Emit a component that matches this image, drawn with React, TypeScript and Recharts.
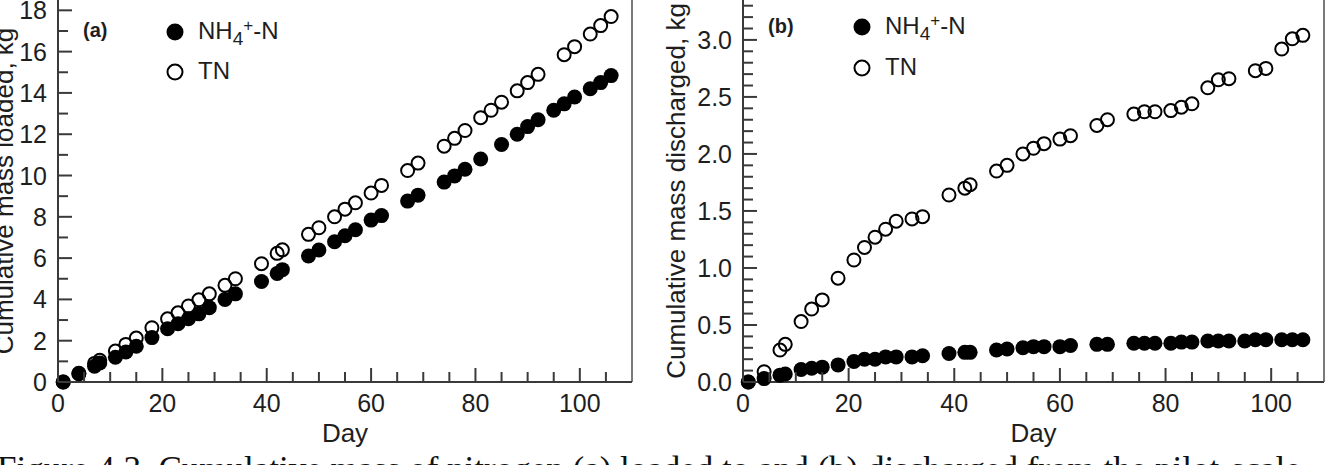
import React from 'react';
import { ScatterChart, Scatter, XAxis, YAxis, ReferenceLine, Legend } from 'recharts';

// sampling days (shared by both panels)
const days = [1, 4, 7, 8, 11, 13, 15, 18, 21, 23, 25, 27, 29, 32, 34, 39, 42, 43, 48, 50, 53, 55, 57, 60, 62, 67, 69, 74, 76, 78, 81, 83, 85, 88, 90, 92, 95, 97, 99, 102, 104, 106];

// (a) cumulative mass loaded, kg
const nh4Loaded = [0.0, 0.4, 0.76, 0.92, 1.2, 1.45, 1.73, 2.15, 2.58, 2.82, 3.06, 3.3, 3.6, 4.0, 4.27, 4.87, 5.26, 5.44, 6.1, 6.39, 6.79, 7.08, 7.37, 7.84, 8.06, 8.76, 9.05, 9.68, 9.98, 10.3, 10.8, null, 11.5, 12.0, 12.37, 12.7, 13.16, 13.47, 13.8, 14.2, 14.5, 14.84];
const tnLoaded = [0.0, 0.42, 0.9, 1.05, 1.5, 1.82, 2.13, 2.63, 3.06, 3.35, 3.68, 3.98, 4.27, 4.68, 5.0, 5.73, 6.23, 6.4, 7.15, 7.47, 8.0, 8.37, 8.68, 9.15, 9.52, 10.24, 10.6, 11.42, 11.8, 12.18, 12.8, 13.16, 13.55, 14.1, 14.5, 14.9, null, 15.85, 16.24, 16.85, 17.26, 17.7];

// (b) cumulative mass discharged, kg
const nh4Discharged = [0.0, 0.03, 0.06, 0.07, 0.11, 0.12, 0.13, 0.15, 0.18, 0.2, 0.2, 0.22, 0.22, 0.22, 0.23, 0.25, 0.26, 0.26, 0.28, 0.29, 0.3, 0.31, 0.31, 0.31, 0.32, 0.33, 0.33, 0.34, 0.34, 0.34, 0.34, 0.35, 0.35, 0.36, 0.36, 0.36, 0.36, 0.37, 0.37, 0.37, 0.37, 0.37];
const tnDischarged = [0.0, 0.09, 0.28, 0.33, 0.53, 0.64, 0.72, 0.91, 1.07, 1.18, 1.27, 1.34, 1.41, 1.43, 1.45, 1.64, 1.7, 1.73, 1.85, 1.9, 2.0, 2.05, 2.09, 2.13, 2.16, 2.25, 2.3, 2.35, 2.37, 2.37, 2.38, 2.41, 2.44, 2.58, 2.65, 2.66, null, 2.73, 2.75, 2.92, 3.01, 3.04];

// ticks
const xMajor = [0, 20, 40, 60, 80, 100];
const xMinor = [5, 10, 15, 25, 30, 35, 45, 50, 55, 65, 70, 75, 85, 90, 95, 105];
const yMajorA = [0, 2, 4, 6, 8, 10, 12, 14, 16, 18];
const yMinorA = [1, 3, 5, 7, 9, 11, 13, 15, 17];
const yMajorB = [0, 0.5, 1, 1.5, 2, 2.5, 3];
const yMinorB = [0.1, 0.2, 0.3, 0.4, 0.6, 0.7, 0.8, 0.9, 1.1, 1.2, 1.3, 1.4, 1.6, 1.7, 1.8, 1.9, 2.1, 2.2, 2.3, 2.4, 2.6, 2.7, 2.8, 2.9, 3.1, 3.2, 3.3];

const FONT = '"Liberation Sans", Arial, Helvetica, sans-serif';
const AXIS = '#3a3a3a';
const INK = '#1e1e1e';

const toPoints = (vals: (number | null)[]) =>
  days.map((d, i) => ({ day: d, v: vals[i] })).filter(p => p.v != null);

const Filled = (p: any) => <circle cx={p.cx} cy={p.cy} r={7.5} fill="#000" />;
const Open = (p: any) => <circle cx={p.cx} cy={p.cy} r={6.5} fill="none" stroke="#000" strokeWidth={2} />;

function makeYTick(majors: number[], fmt: (v: number) => string) {
  return (props: any) => {
    const { x, y, payload } = props;
    const major = majors.includes(payload.value);
    return (
      <g>
        <line x1={x} x2={x + (major ? 14 : 10)} y1={y} y2={y} stroke={AXIS} strokeWidth={2} />
        {major && (
          <text x={x - 11} y={y} dy="0.36em" textAnchor="end" fontSize={25} fontFamily={FONT} fill={INK}>
            {fmt(payload.value)}
          </text>
        )}
      </g>
    );
  };
}

const XTick = (props: any) => {
  const { x, y, payload } = props;
  const major = xMajor.includes(payload.value);
  return (
    <g>
      <line x1={x} x2={x} y1={y} y2={y - (major ? 14 : 10)} stroke={AXIS} strokeWidth={2} />
      {major && (
        <text x={x} y={y + 30} textAnchor="middle" fontSize={25} fontFamily={FONT} fill={INK}>
          {payload.value}
        </text>
      )}
    </g>
  );
};

const yTitle = (text: string, x: number) => () => (
  <text transform={`translate(${x},191) rotate(-90)`} textAnchor="middle" fontSize={26} fontFamily={FONT} fill={INK}>
    {text}
  </text>
);

const makeLegend = (tag: string, tagX: number, tagY: number, cx: number, cy1: number, cy2: number) => () => (
  <svg width={420} height={100} style={{ display: 'block', overflow: 'visible' }}>
    <text x={tagX} y={tagY} fontSize={20} fontWeight="bold" fontFamily={FONT} fill={INK}>{tag}</text>
    <circle cx={cx} cy={cy1} r={8.5} fill="#000" />
    <text x={cx + 23} y={cy1 + 7} fontSize={24} fontFamily={FONT} fill={INK}>
      NH<tspan dy={6} fontSize={19}>4</tspan>
      <tspan dy={-14} fontSize={17}>+</tspan>
      <tspan dy={8}>-N</tspan>
    </text>
    <circle cx={cx} cy={cy2} r={7.5} fill="none" stroke="#000" strokeWidth={2} />
    <text x={cx + 23} y={cy2 + 7} fontSize={24} fontFamily={FONT} fill={INK}>TN</text>
  </svg>
);

const YTickA = makeYTick(yMajorA, v => String(v));
const YTickB = makeYTick(yMajorB, v => v.toFixed(1));

function Panel(props: {
  width: number;
  axisWidth: number;
  right: number;
  yMax: number;
  yTicks: number[];
  yTick: any;
  title: string;
  titleX: number;
  nh4: (number | null)[];
  tn: (number | null)[];
  legend: any;
}) {
  return (
    <ScatterChart width={props.width} height={465} margin={{ top: 0, right: props.right, bottom: 0, left: 0 }}>
      <XAxis
        type="number"
        dataKey="day"
        domain={[0, 110]}
        ticks={[...xMajor, ...xMinor]}
        interval={0}
        tick={XTick}
        tickLine={false}
        tickSize={0}
        tickMargin={0}
        height={83}
        axisLine={{ stroke: AXIS, strokeWidth: 2 }}
        label={{ value: 'Day', position: 'insideBottom', offset: 23, fontSize: 26, fontFamily: FONT, fill: INK }}
      />
      <YAxis
        type="number"
        dataKey="v"
        domain={[0, props.yMax]}
        ticks={props.yTicks}
        interval={0}
        tick={props.yTick}
        tickLine={false}
        tickSize={0}
        tickMargin={0}
        width={props.axisWidth}
        axisLine={{ stroke: AXIS, strokeWidth: 2 }}
        label={yTitle(props.title, props.titleX)}
      />
      <ReferenceLine x={110} stroke="#7a7a7a" strokeWidth={2} />
      <Legend layout="horizontal" verticalAlign="middle" align="center" content={props.legend} wrapperStyle={{ left: 0, top: 0, width: 420, height: 100 }} />
      <Scatter name="TN" data={toPoints(props.tn)} shape={Open} isAnimationActive={false} />
      <Scatter name="NH4+-N" data={toPoints(props.nh4)} shape={Filled} isAnimationActive={false} />
    </ScatterChart>
  );
}

export default function App() {
  return (
    <div style={{ position: 'absolute', left: 0, top: 0, width: 1329, height: 465, overflow: 'hidden', background: '#fff' }}>
      <svg width={1329} height={465} style={{ position: 'absolute', left: 0, top: 0 }}>
        <text x={-3} y={481} fontSize={35} fontFamily='"Liberation Serif", "Times New Roman", serif' fill="#111">
          Figure 4.3. Cumulative mass of nitrogen (a) loaded to and (b) discharged from the pilot-scale
        </text>
      </svg>
      <div style={{ position: 'absolute', left: 0, top: 0 }}>
        <Panel
          width={660}
          axisWidth={58}
          right={28}
          yMax={18.5}
          yTicks={[...yMajorA, ...yMinorA]}
          yTick={YTickA}
          title="Cumulative mass loaded, kg"
          titleX={13}
          nh4={nh4Loaded}
          tn={tnLoaded}
          legend={makeLegend('(a)', 83, 37, 175, 32, 72)}
        />
      </div>
      <div style={{ position: 'absolute', left: 660, top: 0 }}>
        <Panel
          width={669}
          axisWidth={83}
          right={5}
          yMax={3.35}
          yTicks={[...yMajorB, ...yMinorB]}
          yTick={YTickB}
          title="Cumulative mass discharged, kg"
          titleX={25}
          nh4={nh4Discharged}
          tn={tnDischarged}
          legend={makeLegend('(b)', 108, 33, 202, 27, 68)}
        />
      </div>
    </div>
  );
}
